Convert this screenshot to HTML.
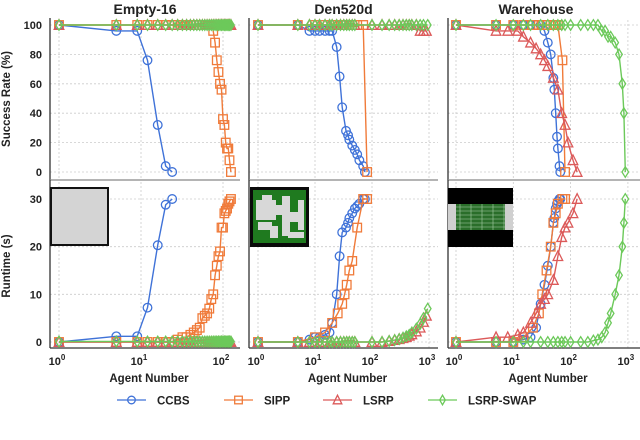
<!DOCTYPE html>
<html><head><meta charset="utf-8"><style>
body{margin:0;background:#fff}
svg{display:block;font-family:"Liberation Sans",sans-serif}
</style></head><body>
<svg id="chart" width="640" height="440" viewBox="0 0 640 440" xmlns="http://www.w3.org/2000/svg"></svg>
<script>
// ---------- data ----------
const mapNames = ["Empty-16","Den520d","Warehouse"];
const seriesNames = ["CCBS","SIPP","LSRP","LSRP-SWAP"];
const xTickExps = [[0,1,2],[0,1,2,3],[0,1,2,3]];
const successTicks = [0,20,40,60,80,100];
const runtimeTicks = [0,10,20,30];

// Empty-16
const e_ccbs_x = [1,5,9,12,16,20,24];
const e_ccbs_sr = [100,96,96,76,32,4,0];
const e_ccbs_rt = [0,1.2,1.2,7.2,20.3,28.8,30];
const e_sipp_x = [1,5,9,12,16,20,24,28,32,36,40,44,48,52,56,60,64,68,72,76,80,84,88,92,96,100,104,108,112,116,120,125];
const e_sipp_sr = [100,100,100,100,100,100,100,100,100,100,100,100,100,100,100,100,100,100,100,96,88,76,68,60,56,36,32,20,16,16,8,0];
const e_sipp_rt = [0,0,0,0,0,0,0,0.5,1,1,1.5,2,2.5,3,5,5.5,6,7,9,10,14,16,18,19,24,24,27,27.5,28,29,29.5,30];
const e_lsrp_x = [1,5,9,12,16,20,24,28,32,36,40,44,48,52,56,60,64,68,72,76,80,84,88,92,96,100,104,108,112,116,120,125];
const e_lsrp_sr = e_lsrp_x.map(()=>100);
const e_lsrp_rt = e_lsrp_x.map(()=>0);
const e_swap_x = e_lsrp_x;
const e_swap_sr = e_lsrp_x.map(()=>100);
const e_swap_rt = e_lsrp_x.map(()=>0.1);

// Den520d
const d_ccbs_x = [1,5,8,10,12,15,18,20,24,27,30,35,38,40,45,50,55,60,70,75];
const d_ccbs_sr = [100,100,96,96,96,96,96,96,85,65,44,28,25,22,18,15,12,8,4,0];
const d_ccbs_rt = [0,0,0.5,1,1,1.5,2,4,10,18,23,24,25,26,27,28,28.5,29,30,30];
const d_sipp_x = [1,5,10,15,20,25,30,33,36,40,45,55,70,82];
const d_sipp_sr = [100,100,100,100,100,100,100,100,100,100,100,100,100,0];
const d_sipp_rt = [0,0,1,2,4,6,8,10,12,15,17,24,30,30];
const d_lsrp_x = [1,5,8,10,12,15,18,20,24,28,32,36,40,45,50,100,150,200,250,300,350,400,450,500,600,700,800,900];
const d_lsrp_sr = [100,100,100,100,100,100,100,100,100,100,100,100,100,100,100,100,100,100,100,100,100,100,100,100,100,96,96,96];
const d_lsrp_rt = [0,0,0,0,0,0,0,0,0,0,0,0,0,0,0,0,0,0.2,0.4,0.6,0.8,1,1.3,1.6,2.2,3,4.2,5.5];
const d_swap_x = [1,5,8,10,12,15,18,20,24,28,32,36,40,45,50,100,150,200,250,300,350,400,450,500,600,700,800,950];
const d_swap_sr = d_swap_x.map(()=>100);
const d_swap_rt = [0,0,0,0,0,0,0,0,0,0,0,0,0,0,0,0,0,0.2,0.4,0.6,0.9,1.2,1.5,2,2.8,3.8,5,7];

// Warehouse
const w_ccbs_x = [1,5,10,15,20,25,30,35,40,45,50,52,55,58,60,64,66];
const w_ccbs_sr = [100,100,100,100,100,100,100,96,88,80,64,56,40,24,16,4,0];
const w_ccbs_rt = [0,0,0,0.5,1,3,8,12,16,20,25,26,28,29,29.5,30,30];
const w_sipp_x = [1,5,10,15,22,28,32,38,45,50,55,60,72,80];
const w_sipp_sr = [100,100,100,100,100,100,100,100,100,100,100,100,76,0];
const w_sipp_rt = [0,0,0,1,3,6,10,15,20,25,27,29,30,30];
const w_lsrp_x = [1,5,8,12,15,20,25,30,35,40,50,60,70,80,90,110,130];
const w_lsrp_sr = [100,96,96,96,92,88,84,80,76,72,64,56,40,32,20,8,0];
const w_lsrp_rt = [0,1,1,1.5,2,4,6,8,9,10,13,18,22,24,25,27,30];
const w_swap_x = [1,5,10,15,20,30,40,50,60,70,80,100,150,200,250,300,350,400,450,500,600,700,800,850,900];
const w_swap_sr = [100,100,100,100,100,100,100,100,100,100,100,100,100,100,100,100,96,96,92,92,88,80,60,40,0];
const w_swap_rt = [0,0,0,0,0,0,0,0,0,0,0,0,0,0,0.3,0.5,1,2,4,6,10,14,20,25,30];

const panelData = [
 [[e_ccbs_x,e_ccbs_sr,e_ccbs_rt],[e_sipp_x,e_sipp_sr,e_sipp_rt],[e_lsrp_x,e_lsrp_sr,e_lsrp_rt],[e_swap_x,e_swap_sr,e_swap_rt]],
 [[d_ccbs_x,d_ccbs_sr,d_ccbs_rt],[d_sipp_x,d_sipp_sr,d_sipp_rt],[d_lsrp_x,d_lsrp_sr,d_lsrp_rt],[d_swap_x,d_swap_sr,d_swap_rt]],
 [[w_ccbs_x,w_ccbs_sr,w_ccbs_rt],[w_sipp_x,w_sipp_sr,w_sipp_rt],[w_lsrp_x,w_lsrp_sr,w_lsrp_rt],[w_swap_x,w_swap_sr,w_swap_rt]]
];

// ---------- layout ----------
const colors = ["#3f72d8","#f07b3a","#dc5a5a","#6cc95a"];
const panels = [
 {left:50,right:240,x0:59,dec:82},
 {left:249,right:438,x0:258,dec:57},
 {left:448,right:640,x0:456,dec:57.3}
];
const rows = [
 {top:18,bottom:180,yAt:v=>172-v/100*147,ticks:successTicks,key:1},
 {top:180,bottom:348,yAt:v=>342-v/30*143,ticks:runtimeTicks,key:2}
];
const NS="http://www.w3.org/2000/svg";
const svg=document.getElementById('chart');
function mk(tag,attrs,parent){const e=document.createElementNS(NS,tag);for(const k in attrs)e.setAttribute(k,attrs[k]);(parent||svg).appendChild(e);return e;}

function marker(s,x,y,g,sz){
  const c=colors[s];const st={fill:"none",stroke:c,"stroke-width":1.3};
  let e;
  if(s===0){e=mk('ellipse',Object.assign({cx:x,cy:y,rx:sz,ry:sz},st),g);}
  else if(s===1){e=mk('rect',Object.assign({x:x-sz,y:y-sz,width:2*sz,height:2*sz},st),g);}
  else if(s===2){e=mk('polygon',Object.assign({points:`${x},${y-sz-1} ${x-sz-0.5},${y+sz} ${x+sz+0.5},${y+sz}`},st),g);}
  else {e=mk('polygon',Object.assign({points:`${x},${y-sz-1} ${x-sz+1},${y} ${x},${y+sz+1} ${x+sz-1},${y}`},st),g);}
  return e;
}

panels.forEach((p,pi)=>{
  const xAt=v=>p.x0+Math.log10(v)*p.dec;
  const t=mk('text',{x:(p.left+p.right)/2-(pi===2?8:0),y:14,"text-anchor":"middle","font-size":14,"font-weight":"bold",fill:"#222"});
  
  
  t.textContent=mapNames[pi];
  rows.forEach((r,ri)=>{
    const g=mk('g',{});
    
    
    xTickExps[pi].forEach(ex=>{
      const x=xAt(Math.pow(10,ex));
      mk('line',{x1:x,x2:x,y1:r.top+2,y2:r.bottom,stroke:"#ccc","stroke-width":0.8,"stroke-dasharray":"2,2"},g);
    });
    r.ticks.forEach(v=>{
      const y=r.yAt(v);
      mk('line',{x1:p.left,x2:p.right,y1:y,y2:y,stroke:"#ccc","stroke-width":0.8,"stroke-dasharray":"2,2"},g);
      if(pi===0){
        const tl=mk('text',{x:42,y:y+4,"text-anchor":"end","font-size":11,"font-weight":"bold",fill:"#222"},g);
        
        
        tl.textContent=v;
      }
    });
    mk('line',{x1:p.left,x2:p.left,y1:r.top,y2:r.bottom,stroke:"#333","stroke-width":1.3},g);
    mk('line',{x1:p.left,x2:p.right,y1:r.bottom,y2:r.bottom,stroke:ri===0?"#888":"#333","stroke-width":1.3},g);
    panelData[pi].forEach((sd,si)=>{
      const xs=sd[0],ys=sd[r.key];
      const sg=mk('g',{},g);
      
      
      const pts=xs.map((x,i)=>xAt(x).toFixed(1)+','+r.yAt(ys[i]).toFixed(1)).join(' ');
      mk('polyline',{points:pts,fill:"none",stroke:colors[si],"stroke-width":1.4},sg);
      xs.forEach((x,i)=>{
        const m=marker(si,xAt(x),r.yAt(ys[i]),sg,4.3);
        
        
      });
    });
  });
  xTickExps[pi].forEach(ex=>{
    const x=xAt(Math.pow(10,ex));
    const tl=mk('text',{x:x-2,y:365,"text-anchor":"middle","font-size":11,"font-weight":"bold",fill:"#222"});
    
    
    tl.textContent='10';
    const sp=mk('tspan',{"font-size":8,dy:-5});sp.textContent=ex;tl.appendChild(sp);
  });
  const xl=mk('text',{x:(p.left+p.right)/2+4,y:382,"text-anchor":"middle","font-size":11.5,"font-weight":"bold",fill:"#222"});
  
  
  xl.textContent='Agent Number';
});

// map insets
(function(){
  const g1=mk('g',{});
  
  
  mk('rect',{x:51,y:188,width:57,height:57,fill:"#d4d4d4",stroke:"#111","stroke-width":2},g1);
  const g2=mk('g',{});
  
  
  mk('rect',{x:250,y:187,width:59,height:60,fill:"#0a0a0a"},g2);
  mk('rect',{x:253,y:190,width:53,height:53,fill:"#1f7a1f"},g2);
  [[256,200,20,20],[262,195,10,10],[270,205,20,10],[282,196,8,40],[258,222,14,8],[290,212,12,10],[298,200,6,30],[270,226,8,12],[288,232,16,6]].forEach(a=>mk('rect',{x:a[0],y:a[1],width:a[2],height:a[3],fill:"#d8d8d8"},g2));
  const g3=mk('g',{});
  
  
  mk('rect',{x:448,y:188,width:65,height:59,fill:"#000"},g3);
  mk('rect',{x:448,y:204,width:65,height:26,fill:"#d0d0d0"},g3);
  mk('rect',{x:456,y:204,width:49,height:26,fill:"#2a6e2a"},g3);
  for(let i=0;i<6;i++)mk('line',{x1:456,x2:505,y1:207+i*4,y2:207+i*4,stroke:"#aad0aa","stroke-width":0.6},g3);
  for(let i=0;i<5;i++)mk('line',{x1:460+i*11,x2:460+i*11,y1:204,y2:230,stroke:"#aad0aa","stroke-width":0.6},g3);
})();

[["Success Rate (%)",99],["Runtime (s)",266]].forEach(a=>{
  const t=mk('text',{x:0,y:0,transform:`translate(10,${a[1]}) rotate(-90)`,"text-anchor":"middle","font-size":11.5,"font-weight":"bold",fill:"#222"});
  
  
  t.textContent=a[0];
});

const legX=[117,224,323,428];
const lg=mk('g',{});


seriesNames.forEach((n,i)=>{
  const eg=mk('g',{},lg);
  
  
  mk('line',{x1:legX[i],x2:legX[i]+29,y1:400,y2:400,stroke:colors[i],"stroke-width":1.3},eg);
  marker(i,legX[i]+14.5,400,eg,3.8);
  const t=mk('text',{x:legX[i]+40,y:404.5,"font-size":11.5,"font-weight":"bold",fill:"#222"},eg);
  t.textContent=n;
});

const cap=mk('text',{x:320,y:453,"text-anchor":"middle","font-family":"Liberation Serif, serif","font-size":16,fill:"#555"});


cap.textContent='Figure 4: Success rate and runtime comparison';
</script>
</body></html>
